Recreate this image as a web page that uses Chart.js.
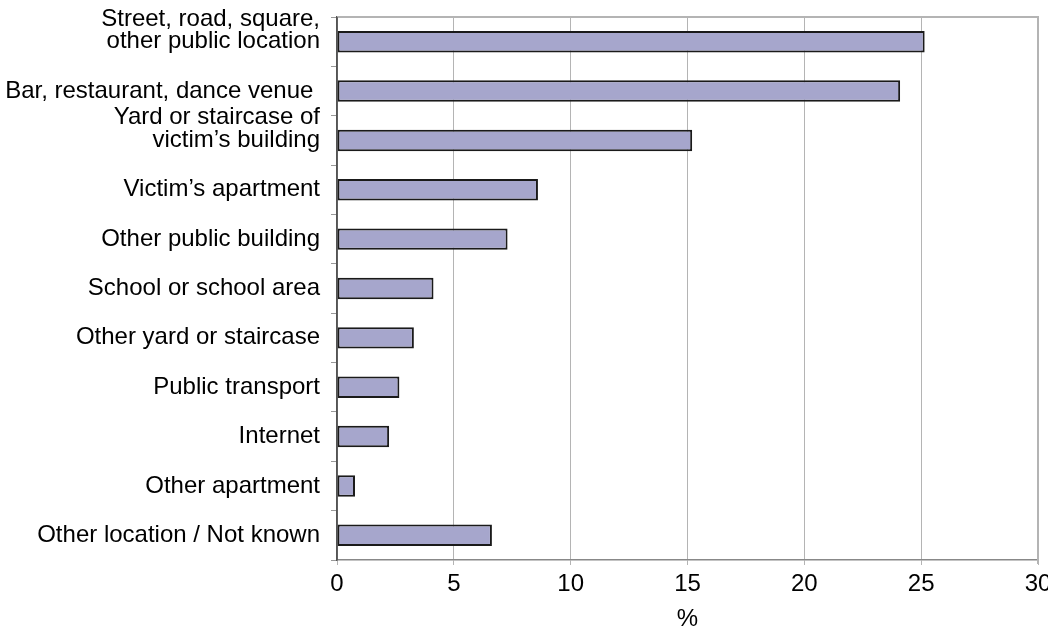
<!DOCTYPE html>
<html>
<head>
<meta charset="utf-8">
<script src="https://cdn.jsdelivr.net/npm/chart.js@4"></script>
<style>
  html, body { margin: 0; padding: 0; background: #fff; }
  #wrap { width: 1048px; height: 627px; position: relative; }
</style>
</head>
<body>
<div id="wrap"><canvas id="c" width="1048" height="627"></canvas></div>
<script>
const categories = [
  ["Street, road, square,", "other public location", ""],
  "Bar, restaurant, dance venue ",
  ["Yard or staircase of", "victim\u2019s building", ""],
  "Victim\u2019s apartment",
  "Other public building",
  "School or school area",
  "Other yard or staircase",
  "Public transport",
  "Internet",
  "Other apartment",
  "Other location / Not known"
];
const percentValues = [25.15, 24.1, 15.2, 8.6, 7.3, 4.13, 3.29, 2.67, 2.23, 0.77, 6.63];
const xTickValues = [0, 5, 10, 15, 20, 25, 30];
const xAxisTitle = "%";

const FONT = "'Liberation Sans', Arial, sans-serif";

const frame = {
  id: 'frame',
  afterDraw(chart) {
    const { ctx, chartArea: a } = chart;
    ctx.save();
    ctx.strokeStyle = '#b4b4b4';
    ctx.lineWidth = 2;
    ctx.beginPath();
    ctx.moveTo(a.left, a.top);
    ctx.lineTo(a.right, a.top);
    ctx.lineTo(a.right, a.bottom + 4);
    ctx.stroke();
    ctx.strokeStyle = '#555';
    ctx.lineWidth = 1.5;
    ctx.beginPath();
    ctx.moveTo(a.left, a.top);
    ctx.lineTo(a.left, a.bottom);
    ctx.stroke();
    ctx.restore();
  }
};

new Chart(document.getElementById('c'), {
  type: 'bar',
  data: {
    labels: categories,
    datasets: [{
      data: percentValues,
      backgroundColor: '#a6a6cc',
      borderColor: '#1a1a1a',
      borderWidth: 2,
      borderSkipped: false,
      categoryPercentage: 1,
      barPercentage: 0.435
    }]
  },
  options: {
    indexAxis: 'y',
    responsive: false,
    animation: false,
    layout: { padding: { top: 17, right: 10, bottom: 0, left: 0 } },
    plugins: { legend: { display: false }, tooltip: { enabled: false } },
    scales: {
      x: {
        min: 0, max: 30,
        afterBuildTicks(scale) { scale.ticks = xTickValues.map(v => ({ value: v })); },
        afterFit(scale) { scale.height = 67; scale.paddingRight = 0; scale.paddingLeft = 0; },
        grid: { color: '#b4b4b4', lineWidth: 1, tickLength: 5, drawOnChartArea: true },
        border: { color: '#888', width: 1.5 },
        ticks: { color: '#000', font: { family: FONT, size: 24 }, padding: 5, maxRotation: 0 },
        title: { display: true, text: xAxisTitle, color: '#000', font: { family: FONT, size: 24, lineHeight: 1 }, padding: { top: 0, bottom: -4 } }
      },
      y: {
        afterFit(scale) { scale.width = 337; scale.paddingTop = 0; scale.paddingBottom = 0; },
        grid: { offset: true, drawOnChartArea: false, tickLength: 6, color: '#999' },
        border: { color: '#555', width: 1.5 },
        ticks: { color: '#000', font: { family: FONT, size: 24, lineHeight: 0.95 }, padding: 11, autoSkip: false }
      }
    }
  },
  plugins: [frame]
});
</script>
</body>
</html>
